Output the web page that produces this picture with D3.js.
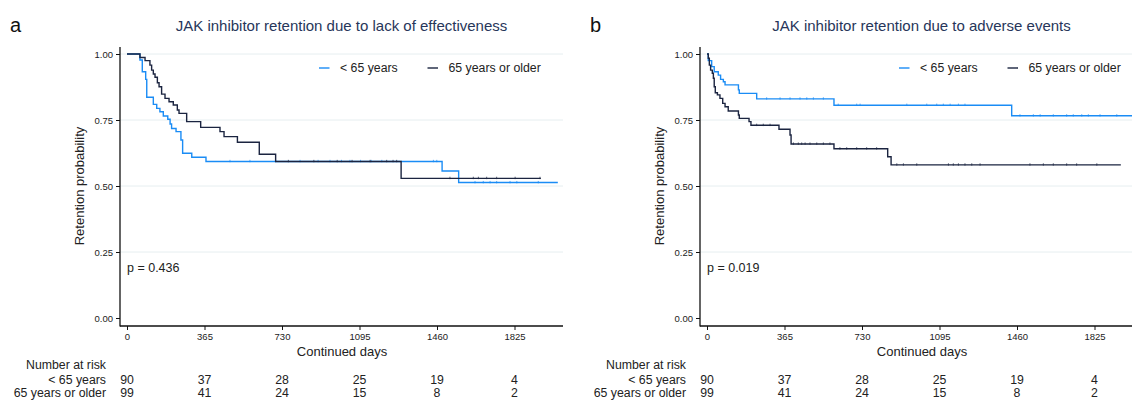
<!DOCTYPE html>
<html>
<head>
<meta charset="utf-8">
<script src="https://cdn.jsdelivr.net/npm/d3@7"></script>
<style>
  body { margin: 0; background: #fff; }
  svg { display: block; font-family: "Liberation Sans", Arial, Helvetica, sans-serif; }
</style>
</head>
<body>
<svg id="chart" width="1132" height="401"></svg>
<script>
// ---- data ----
var xTicks = [0, 365, 730, 1095, 1460, 1825];
var yTicks = [0, 0.25, 0.5, 0.75, 1];
var groupNames = ["< 65 years", "65 years or older"];

// panel a: lack of effectiveness
var effYoungTimes = [0, 61, 72, 88, 93, 124, 140, 155, 171, 192, 203, 210, 231, 254, 262, 305, 372, 1484, 1562];
var effYoungSurv  = [1, 0.977, 0.933, 0.904, 0.836, 0.809, 0.794, 0.781, 0.765, 0.753, 0.735, 0.718, 0.706, 0.674, 0.624, 0.609, 0.593, 0.557, 0.513];
var effYoungEnd = 2029;
var effYoungCens = [485, 579, 700, 815, 900, 956, 1010, 1050, 1100, 1150, 1200, 1443, 1459, 1639, 1678, 1710, 1741, 1804, 1836, 1937];

var effOldTimes = [0, 61, 85, 108, 116, 124, 132, 143, 151, 163, 179, 198, 218, 237, 245, 281, 347, 438, 457, 520, 623, 700, 1291];
var effOldSurv  = [1, 0.987, 0.975, 0.958, 0.939, 0.924, 0.912, 0.891, 0.876, 0.848, 0.832, 0.819, 0.807, 0.788, 0.775, 0.744, 0.722, 0.706, 0.687, 0.666, 0.620, 0.593, 0.529];
var effOldEnd = 1949;
var effOldCens = [760, 880, 990, 1060, 1145, 1223, 1253, 1270, 1521, 1631, 1655, 1694, 1741, 1828, 1945];

var effRiskYoung = [90, 37, 28, 25, 19, 4];
var effRiskOld   = [99, 41, 24, 15, 8, 2];

// panel b: adverse events
var aeYoungTimes = [0, 6, 22, 34, 53, 64, 77, 85, 148, 152, 234, 598, 1435];
var aeYoungSurv  = [1, 0.975, 0.952, 0.933, 0.920, 0.904, 0.895, 0.883, 0.864, 0.851, 0.830, 0.806, 0.766];
var aeYoungEnd = 2029;
var aeYoungCens = [281, 344, 391, 438, 470, 501, 548, 618, 705, 721, 941, 1035, 1082, 1113, 1145, 1184, 1215, 1474, 1537, 1569, 1631, 1694, 1725, 1765, 1796, 1851, 1930];

var aeOldTimes = [0, 6, 11, 17, 25, 30, 34, 39, 49, 61, 74, 85, 100, 148, 152, 198, 207, 339, 391, 396, 598, 851, 867];
var aeOldSurv  = [1, 0.984, 0.958, 0.939, 0.927, 0.908, 0.876, 0.853, 0.845, 0.832, 0.813, 0.800, 0.784, 0.769, 0.756, 0.744, 0.730, 0.715, 0.693, 0.659, 0.641, 0.611, 0.580];
var aeOldEnd = 1949;
var aeOldCens = [234, 265, 297, 407, 430, 446, 462, 485, 517, 548, 579, 626, 658, 705, 752, 799, 894, 925, 988, 1137, 1160, 1184, 1215, 1247, 1286, 1521, 1584, 1631, 1694, 1741, 1836];

var aeRiskYoung = [90, 37, 28, 25, 19, 4];
var aeRiskOld   = [99, 41, 24, 15, 8, 2];

var blue = "#1a8cf5", navy = "#1b2440";
var ink = "#222";

var panels = [
  { letter: "a", title: "JAK inhibitor retention due to lack of effectiveness", p: "p = 0.436", ox: 0,
    series: [
      { times: effYoungTimes, surv: effYoungSurv, end: effYoungEnd, cens: effYoungCens, color: blue },
      { times: effOldTimes, surv: effOldSurv, end: effOldEnd, cens: effOldCens, color: navy }
    ],
    risk: [effRiskYoung, effRiskOld] },
  { letter: "b", title: "JAK inhibitor retention due to adverse events", p: "p = 0.019", ox: 580,
    series: [
      { times: aeYoungTimes, surv: aeYoungSurv, end: aeYoungEnd, cens: aeYoungCens, color: blue },
      { times: aeOldTimes, surv: aeOldSurv, end: aeOldEnd, cens: aeOldCens, color: navy }
    ],
    risk: [aeRiskYoung, aeRiskOld] }
];

var svg = d3.select("#chart");

function survAt(s, t) {
  var v = s.surv[0];
  for (var i = 0; i < s.times.length; i++) { if (s.times[i] <= t) v = s.surv[i]; }
  return v;
}

panels.forEach(function (pn) {
  var ox = pn.ox;
  var x = d3.scaleLinear().domain([0, 1825]).range([127 + ox, 514.5 + ox]);
  var y = d3.scaleLinear().domain([0, 1]).range([318, 54]);
  var left = 120 + ox, right = 563 + ox, bottom = 326;
  var g = svg.append("g");

  // grid
  g.selectAll("line.grid").data(yTicks.filter(function (d) { return d > 0; }))
    .enter().append("line")
    .attr("x1", left).attr("x2", right)
    .attr("y1", function (d) { return y(d); }).attr("y2", function (d) { return y(d); })
    .attr("stroke", "#e6eef0").attr("stroke-width", 1);

  // curves
  var line = d3.line()
    .x(function (d) { return x(d[0]); })
    .y(function (d) { return y(d[1]); })
    .curve(d3.curveStepAfter);

  pn.series.forEach(function (s) {
    var pts = s.times.map(function (t, i) { return [t, s.surv[i]]; });
    pts.push([s.end, s.surv[s.surv.length - 1]]);
    g.append("path").datum(pts)
      .attr("d", line).attr("fill", "none")
      .attr("stroke", s.color).attr("stroke-width", 1.4);
    // censor ticks, small
    g.selectAll(null).data(s.cens).enter().append("line")
      .attr("x1", function (t) { return x(t); }).attr("x2", function (t) { return x(t); })
      .attr("y1", function (t) { return y(survAt(s, t)) - 1.6; })
      .attr("y2", function (t) { return y(survAt(s, t)) + 0.8; })
      .attr("stroke", s.color).attr("stroke-width", 0.9).attr("stroke-opacity", 0.8);
  });

  // axes
  var ya = g.append("g").attr("transform", "translate(" + left + ",0)")
    .call(d3.axisLeft(y).tickValues(yTicks).tickFormat(d3.format(".2f")).tickSize(4).tickPadding(3));
  var xa = g.append("g").attr("transform", "translate(0," + bottom + ")")
    .call(d3.axisBottom(x).tickValues(xTicks).tickFormat(d3.format("d")).tickSize(4).tickPadding(3));
  [ya, xa].forEach(function (a) {
    a.select(".domain").remove();
    a.selectAll("line").attr("stroke", "#111");
    a.selectAll("text").attr("fill", ink).style("font-size", "9.5px")
      .style("font-family", "'Liberation Sans', Arial, sans-serif");
  });
  g.append("line").attr("x1", left).attr("x2", left).attr("y1", 47).attr("y2", bottom + 0.5)
    .attr("stroke", "#111").attr("stroke-width", 1.3);
  g.append("line").attr("x1", left).attr("x2", right).attr("y1", bottom).attr("y2", bottom)
    .attr("stroke", "#111").attr("stroke-width", 1.3);

  // titles and labels
  svg.append("text").attr("x", 10 + ox).attr("y", 32).text(pn.letter)
    .attr("font-size", 20).attr("fill", "#111");
  svg.append("text").attr("x", (left + right) / 2).attr("y", 31).text(pn.title)
    .attr("text-anchor", "middle").attr("font-size", 15).attr("fill", "#27365a");
  svg.append("text").attr("transform", "translate(" + (79 + ox) + ",186) rotate(-90)")
    .attr("text-anchor", "middle").attr("dominant-baseline", "central")
    .attr("font-size", 13).attr("fill", ink).text("Retention probability");
  svg.append("text").attr("x", 127 + ox).attr("y", 267.5).attr("dominant-baseline", "central")
    .attr("font-size", 12.5).attr("fill", ink).text(pn.p);
  svg.append("text").attr("x", 342 + ox).attr("y", 351).attr("text-anchor", "middle")
    .attr("dominant-baseline", "central").attr("font-size", 13).attr("fill", ink).text("Continued days");

  // legend
  var legX = [319 + ox, 427.5 + ox];
  pn.series.forEach(function (s, i) {
    svg.append("line").attr("x1", legX[i]).attr("x2", legX[i] + 10.5).attr("y1", 68).attr("y2", 68)
      .attr("stroke", s.color).attr("stroke-width", 1.4);
    svg.append("text").attr("x", legX[i] + 21).attr("y", 68).attr("dominant-baseline", "central")
      .attr("font-size", 12.3).attr("fill", ink).text(groupNames[i]);
  });

  // number at risk table
  svg.append("text").attr("x", 106 + ox).attr("y", 365).attr("text-anchor", "end")
    .attr("dominant-baseline", "central").attr("font-size", 12.3).attr("fill", ink).text("Number at risk");
  var rowY = [379.5, 392.5];
  pn.risk.forEach(function (row, r) {
    svg.append("text").attr("x", 106 + ox).attr("y", rowY[r]).attr("text-anchor", "end")
      .attr("dominant-baseline", "central").attr("font-size", 12.3).attr("fill", ink).text(groupNames[r]);
    svg.selectAll(null).data(row).enter().append("text")
      .attr("x", function (d, i) { return x(xTicks[i]); })
      .attr("y", rowY[r]).attr("text-anchor", "middle").attr("dominant-baseline", "central")
      .attr("font-size", 12.3).attr("fill", ink).text(function (d) { return d; });
  });
});
</script>
</body>
</html>
